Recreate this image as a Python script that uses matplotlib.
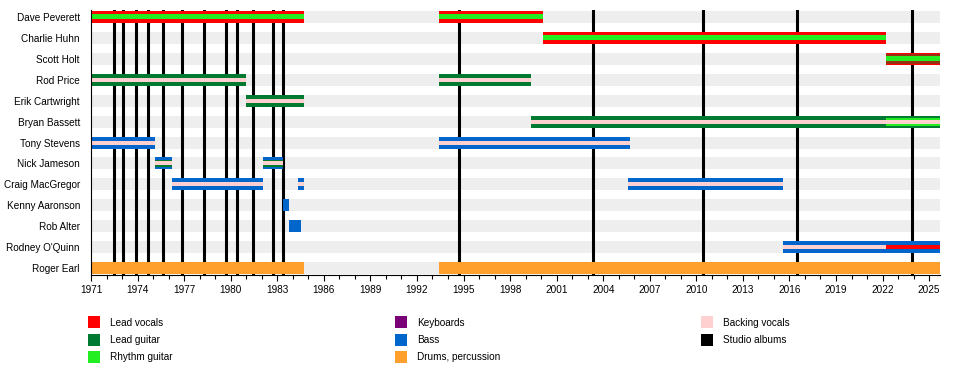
import matplotlib
matplotlib.use("Agg")
import matplotlib.pyplot as plt
from matplotlib.patches import Rectangle

# ---------------- data ----------------
members = ["Dave Peverett", "Charlie Huhn", "Scott Holt", "Rod Price",
           "Erik Cartwright", "Bryan Bassett", "Tony Stevens", "Nick Jameson",
           "Craig MacGregor", "Kenny Aaronson", "Rob Alter", "Rodney O'Quinn",
           "Roger Earl"]

# (member, start, end) per role
lead_vocals = [("Dave Peverett", 1971.0, 1984.7), ("Dave Peverett", 1993.4, 2000.1),
               ("Charlie Huhn", 2000.1, 2022.2), ("Scott Holt", 2022.2, 2025.7),
               ("Rodney O'Quinn", 2022.2, 2025.7)]
lead_guitar = [("Rod Price", 1971.0, 1981.0), ("Rod Price", 1993.4, 1999.35),
               ("Erik Cartwright", 1981.0, 1984.7), ("Bryan Bassett", 1999.35, 2025.7),
               ("Scott Holt", 2022.2, 2025.7),
               ("Nick Jameson", 1975.1, 1976.2), ("Nick Jameson", 1982.1, 1983.4)]
rhythm_guitar = [("Dave Peverett", 1971.0, 1984.7), ("Dave Peverett", 1993.4, 2000.1),
                 ("Charlie Huhn", 2000.1, 2022.2), ("Scott Holt", 2022.2, 2025.7),
                 ("Bryan Bassett", 2022.2, 2025.7)]
keyboards = []
bass = [("Tony Stevens", 1971.0, 1975.1), ("Tony Stevens", 1993.4, 2005.7),
        ("Nick Jameson", 1975.1, 1976.2), ("Nick Jameson", 1982.1, 1983.4),
        ("Craig MacGregor", 1976.2, 1982.1), ("Craig MacGregor", 1984.35, 1984.7),
        ("Craig MacGregor", 2005.6, 2015.6),
        ("Kenny Aaronson", 1983.4, 1983.75), ("Rob Alter", 1983.75, 1984.5),
        ("Rodney O'Quinn", 2015.6, 2025.7)]
drums = [("Roger Earl", 1971.0, 1984.7), ("Roger Earl", 1993.4, 2025.7)]
backing_vocals = [("Rod Price", 1971.0, 1981.0), ("Rod Price", 1993.4, 1999.35),
                  ("Erik Cartwright", 1981.0, 1984.7), ("Bryan Bassett", 1999.35, 2025.7),
                  ("Tony Stevens", 1971.0, 1975.1), ("Tony Stevens", 1993.4, 2005.7),
                  ("Nick Jameson", 1975.1, 1976.2), ("Nick Jameson", 1982.1, 1983.4),
                  ("Craig MacGregor", 1976.2, 1982.1), ("Craig MacGregor", 1984.35, 1984.7),
                  ("Craig MacGregor", 2005.6, 2015.6),
                  ("Rodney O'Quinn", 2015.6, 2022.2)]
studio_albums = [1972.45, 1973.08, 1973.92, 1974.7, 1975.66, 1976.84, 1978.28,
                 1979.68, 1980.39, 1981.46, 1982.75, 1983.35,
                 1994.7, 2003.35, 2010.43, 2016.5, 2023.9]

x_start, x_end = 1971.0, 2025.7
tick_years = list(range(1971, 2026, 3))
minor_years = list(range(1971, 2026))

legend_cols = [["Lead vocals", "Lead guitar", "Rhythm guitar"],
               ["Keyboards", "Bass", "Drums, percussion"],
               ["Backing vocals", "Studio albums"]]

# ---------------- style ----------------
colors = {"Lead vocals": "#FF0000", "Lead guitar": "#007A30",
          "Rhythm guitar": "#22EE22", "Keyboards": "#7A0078",
          "Bass": "#0066CC", "Drums, percussion": "#FFA02C",
          "Backing vocals": "#FFD0D0", "Studio albums": "#000000"}
role_data = {"Lead vocals": lead_vocals, "Lead guitar": lead_guitar,
             "Rhythm guitar": rhythm_guitar, "Keyboards": keyboards,
             "Bass": bass, "Drums, percussion": drums,
             "Backing vocals": backing_vocals}
FULL = 12.0
layer_px = {("Dave Peverett", "Rhythm guitar"): 5,
            ("Charlie Huhn", "Rhythm guitar"): 5,
            ("Scott Holt", "Lead guitar"): 10,
            ("Scott Holt", "Rhythm guitar"): 5,
            ("Bryan Bassett", "Rhythm guitar"): 8,
            ("Bryan Bassett", "Backing vocals"): 4,
            ("Rod Price", "Backing vocals"): 4,
            ("Erik Cartwright", "Backing vocals"): 4,
            ("Tony Stevens", "Backing vocals"): 4,
            ("Nick Jameson", "Lead guitar"): 7,
            ("Nick Jameson", "Backing vocals"): 4,
            ("Craig MacGregor", "Backing vocals"): 4,
            ("Rodney O'Quinn", "Backing vocals"): 4,
            ("Rodney O'Quinn", "Lead vocals"): 4}
layer_alpha = {("Scott Holt", "Lead guitar"): 0.4}

W, H = 960, 374
L, R, T, B = 91, 940, 10, 275
pitch = (268.3 - 16.7) / 12.0

plt.rcParams['font.family'] = ['Liberation Sans', 'DejaVu Sans']
fig = plt.figure(figsize=(W / 100, H / 100), dpi=100)
ax = fig.add_axes([L / W, 1 - B / H, (R - L) / W, (B - T) / H])

n = len(members)
ypos = {m: i for i, m in enumerate(members)}
ax.set_xlim(x_start, x_end)
ax.set_ylim(n - 1 + (B - 268.3) / pitch, -(16.7 - T) / pitch)

# background bands
ax.barh(range(n), x_end - x_start, left=x_start, height=FULL / pitch,
        color="#EEEEEE", zorder=1, linewidth=0)

# studio albums
for d in studio_albums:
    ax.axvline(d, color=colors["Studio albums"], lw=2.2, zorder=2)

# bars
for role, items in role_data.items():
    for m, s, e in items:
        hpx = layer_px.get((m, role), FULL)
        a = layer_alpha.get((m, role), 1.0)
        ax.barh(ypos[m], e - s, left=s, height=hpx / pitch, color=colors[role],
                alpha=a, linewidth=0, zorder=3 + (FULL - hpx) / 100.0)

ax.set_yticks(range(n))
ax.set_yticklabels(members)
ax.tick_params(axis='y', length=0, pad=8, labelsize=7.2)
ax.set_xticks(tick_years)
ax.set_xticks(minor_years, minor=True)
ax.tick_params(axis='x', which='major', length=4, width=0.8, labelsize=7.2, pad=3)
ax.tick_params(axis='x', which='minor', length=3, width=0.8)
for sp in ['top', 'right']:
    ax.spines[sp].set_visible(False)
for sp in ['left', 'bottom']:
    ax.spines[sp].set_linewidth(0.8)
    ax.spines[sp].set_zorder(6)

# legend
col_x = [88, 395, 701]
row_y = [322, 339.5, 357]
for ci, col in enumerate(legend_cols):
    for ri, lab in enumerate(col):
        x0 = col_x[ci]
        yc = row_y[ri]
        fig.patches.append(Rectangle((x0 / W, 1 - (yc + 6) / H), 12 / W, 12 / H,
                                     transform=fig.transFigure, color=colors[lab],
                                     linewidth=0))
        fig.text((x0 + 22) / W, 1 - (yc + 0.5) / H, lab, fontsize=7.2,
                 va='center', ha='left')

fig.savefig("out.png", dpi=100)
